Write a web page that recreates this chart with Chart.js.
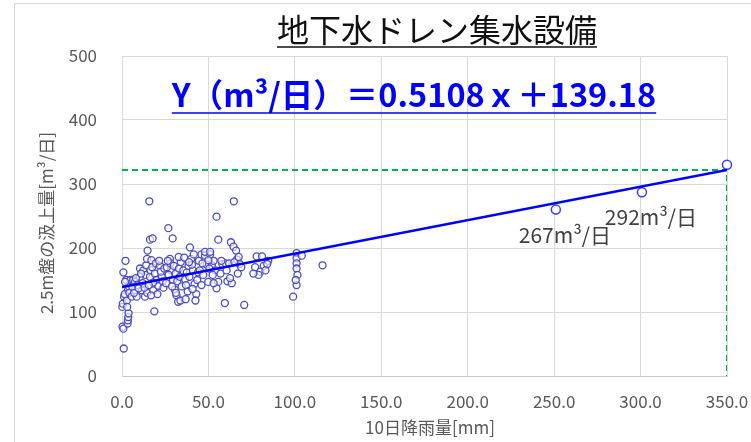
<!DOCTYPE html>
<html>
<head>
<meta charset="utf-8">
<script src="https://cdn.jsdelivr.net/npm/chart.js@4.4.1/dist/chart.umd.min.js"></script>
<style>
  html, body { margin: 0; padding: 0; background: #fff; }
  #wrap { position: relative; width: 751px; height: 442px; }
</style>
</head>
<body>
<div id="wrap"><canvas id="chart"></canvas></div>
<script>
// 10日降雨量 [mm] と 2.5m盤の汲上量 [m3/日]
const rainX = [
  0.3, 0.8, 1.0, 0.2, 0.5, 1.2, 0.8, 2.0, 3.2, 3.4, 3.6, 3.8, 2.8, 3.5, 4.6, 2.5, 4.0, 1.6, 3.0, 5.0, 4.2, 1.8,
  5.6, 6.5, 6.0, 7.5, 8.5, 7.0, 9.0, 10.4, 10.4, 11.5, 12.3, 13.3, 14.0, 14.5, 14.8, 12.0, 13.8, 9.6, 11.0, 8.0, 14.5, 13.0,
  15.8, 16.2, 17.7, 16.2, 17.0, 18.1, 18.7, 16.5, 17.5, 19.0, 20.0, 21.0, 19.5, 22.0, 23.0, 24.0, 20.5, 22.5, 24.5, 18.0, 15.5, 21.5, 23.5, 16.8,
  26.8, 27.7, 29.3, 28.5, 29.5, 30.5, 31.5, 32.5, 33.8, 26.0, 27.0, 28.0, 30.0, 31.0, 32.0, 33.0, 34.0, 34.5, 31.2, 25.5, 29.0, 33.5, 26.5, 32.8,
  35.5, 36.5, 37.5, 38.5, 39.3, 40.0, 41.0, 42.0, 43.0, 42.5, 36.0, 37.0, 38.0, 39.0, 40.5, 44.0, 44.5, 41.5, 43.5, 36.8, 38.8, 40.8,
  45.0, 46.0, 48.0, 49.0, 49.9, 51.0, 52.0, 48.0, 51.0, 47.0, 46.5, 50.5, 53.0, 54.0, 54.7, 55.7, 55.7, 54.7, 53.0, 46.0, 52.5, 50.0,
  57.0, 58.0, 59.5, 60.0, 62.0, 63.0, 64.5, 64.7, 66.0, 66.5, 67.0, 68.0, 70.7, 61.0, 63.5, 65.0, 57.5, 60.5, 67.5, 62.5, 69.0,
  77.9, 81.0, 84.6, 77.0, 82.0, 80.0, 84.0, 79.0, 83.0, 76.0,
  99.0, 101.0, 101.0, 101.0, 101.0, 101.5, 101.0, 104.0, 116.0, 100.5
];
const pumpY = [
  77, 74, 43, 108, 113, 124, 162, 180, 82, 87, 92, 98, 118, 134, 144, 150, 140, 128, 108, 150, 130, 147,
  124, 150, 139, 147, 124, 130, 142, 155, 168, 134, 165, 124, 173, 183, 196, 145, 158, 137, 160, 153, 130, 138,
  273, 213, 215, 155, 181, 134, 101, 165, 170, 160, 150, 141, 176, 172, 155, 138, 128, 163, 168, 146, 142, 180, 148, 126,
  231, 183, 215, 165, 150, 135, 126, 116, 118, 170, 158, 176, 172, 160, 148, 168, 178, 140, 130, 145, 140, 155, 180, 186,
  165, 151, 162, 172, 201, 183, 165, 144, 128, 118, 185, 142, 132, 155, 174, 162, 180, 190, 150, 120, 178, 136,
  165, 190, 188, 174, 147, 190, 173, 194, 194, 158, 176, 168, 180, 165, 249, 213, 147, 137, 145, 142, 158, 181,
  160, 175, 114, 176, 176, 209, 202, 273, 196, 182, 160, 175, 111, 148, 145, 178, 180, 165, 186, 153, 170,
  187, 187, 180, 170, 172, 163, 175, 158, 165, 160,
  124, 192, 184, 176, 168, 158, 142, 188, 173, 150
];

// 大雨時の3点とそのラベル
const bigRainX = [251, 300.8, 350];
const bigPumpY = [260, 287, 330];
const bigLabels = ['267m³/日', '292m³/日', ''];

// 近似直線と最大値の補助線
const trendX = [0, 350];
const trendY = [139.18, 322];
const guideX = [0, 350, 350];
const guideY = [322, 322, 0];

const titleText = '地下水ドレン集水設備';
const equationText = 'Y（m³/日）＝0.5108ｘ＋139.18';
const xTitle = '10日降雨量[mm]';
const yTitle = '2.5m盤の汲上量[m³/日]';

const xTicks = [0, 50, 100, 150, 200, 250, 300, 350];
const yTicks = [0, 100, 200, 300, 400, 500];

const FONT = '"Noto Sans CJK JP", "Noto Sans", sans-serif';
const toPoints = (xs, ys) => xs.map((x, i) => ({ x: x, y: ys[i] }));

// 枠・タイトル・式・軸タイトル・ラベル
const textPlugin = {
    id: 'texts',
    beforeDraw(chart) {
        const ctx = chart.ctx;
        ctx.save();
        ctx.strokeStyle = '#d9d9d9';
        ctx.lineWidth = 1;
        ctx.strokeRect(14.5, 3.5, 900, 600);
        ctx.restore();
    },
    afterDraw(chart) {
        const ctx = chart.ctx;
        const xs = chart.scales.x;
        const ys = chart.scales.y;
        ctx.save();

        // タイトル（下線付き）
        ctx.font = '32px ' + FONT;
        ctx.fillStyle = '#111';
        ctx.textAlign = 'center';
        ctx.textBaseline = 'alphabetic';
        ctx.fillText(titleText, 437, 42);
        let w = ctx.measureText(titleText).width;
        ctx.strokeStyle = '#111';
        ctx.lineWidth = 1.5;
        ctx.beginPath();
        ctx.moveTo(437 - w / 2, 47);
        ctx.lineTo(437 + w / 2, 47);
        ctx.stroke();

        // 近似式（下線付き）
        ctx.font = 'bold 32.5px ' + FONT;
        ctx.fillStyle = '#0000ff';
        ctx.fillText(equationText, 414, 107);
        w = ctx.measureText(equationText).width;
        ctx.strokeStyle = '#0000ff';
        ctx.beginPath();
        ctx.moveTo(414 - w / 2, 113);
        ctx.lineTo(414 + w / 2, 113);
        ctx.stroke();

        // 軸タイトル
        ctx.font = '17px ' + FONT;
        ctx.fillStyle = '#595959';
        ctx.textBaseline = 'middle';
        ctx.fillText(xTitle, 430, 428);
        ctx.save();
        ctx.translate(47, 223);
        ctx.rotate(-Math.PI / 2);
        ctx.fillText(yTitle, 0, 0);
        ctx.restore();

        // 大雨時の点のラベル
        ctx.font = '21px ' + FONT;
        ctx.fillStyle = '#404040';
        bigRainX.forEach((x, i) => {
            if (!bigLabels[i]) return;
            const px = xs.getPixelForValue(x);
            const py = ys.getPixelForValue(bigPumpY[i]);
            ctx.fillText(bigLabels[i], px + 9, py + 25);
        });
        ctx.restore();
    }
};

new Chart(document.getElementById('chart'), {
    type: 'scatter',
    data: {
        datasets: [{
            label: '近似直線',
            type: 'line',
            data: toPoints(trendX, trendY),
            borderColor: '#0000ff',
            borderWidth: 2.5,
            pointRadius: 0,
            order: 1
        }, {
            label: '大雨時',
            data: toPoints(bigRainX, bigPumpY),
            borderColor: '#3b3bff',
            backgroundColor: '#ffffff',
            borderWidth: 1.5,
            pointRadius: 4.5,
            clip: false,
            order: 2
        }, {
            label: '汲上量',
            data: toPoints(rainX, pumpY),
            borderColor: '#4b4bc8',
            backgroundColor: 'rgba(255,255,255,0.6)',
            borderWidth: 1.3,
            pointRadius: 3.5,
            clip: false,
            order: 3
        }, {
            label: '補助線',
            type: 'line',
            data: toPoints(guideX, guideY),
            borderColor: '#00b050',
            borderWidth: 2,
            borderDash: [6, 4],
            pointRadius: 0,
            order: 4
        }]
    },
    options: {
        responsive: true,
        maintainAspectRatio: false,
        animation: false,
        devicePixelRatio: 1,
        layout: { padding: { left: 0, right: 24, top: 56, bottom: 0 } },
        plugins: {
            legend: { display: false },
            tooltip: { enabled: false }
        },
        scales: {
            x: {
                type: 'linear',
                min: 0,
                max: 350,
                afterFit: (s) => { s.height = 66; s.paddingLeft = 0; s.paddingRight = 0; },
                afterBuildTicks: (s) => { s.ticks = xTicks.map(v => ({ value: v })); },
                grid: { color: '#d9d9d9', drawTicks: false },
                border: { color: '#c8c8c8' },
                ticks: {
                    padding: 15,
                    color: '#595959',
                    font: { size: 17, family: FONT },
                    callback: (v) => v.toFixed(1)
                }
            },
            y: {
                type: 'linear',
                min: 0,
                max: 500,
                afterFit: (s) => { s.width = 122; s.paddingTop = 0; s.paddingBottom = 0; },
                afterBuildTicks: (s) => { s.ticks = yTicks.map(v => ({ value: v })); },
                grid: { color: '#d9d9d9', drawTicks: false },
                border: { color: '#d9d9d9' },
                ticks: {
                    padding: 25,
                    color: '#595959',
                    font: { size: 17, family: FONT }
                }
            }
        }
    },
    plugins: [textPlugin]
});
</script>
</body>
</html>
